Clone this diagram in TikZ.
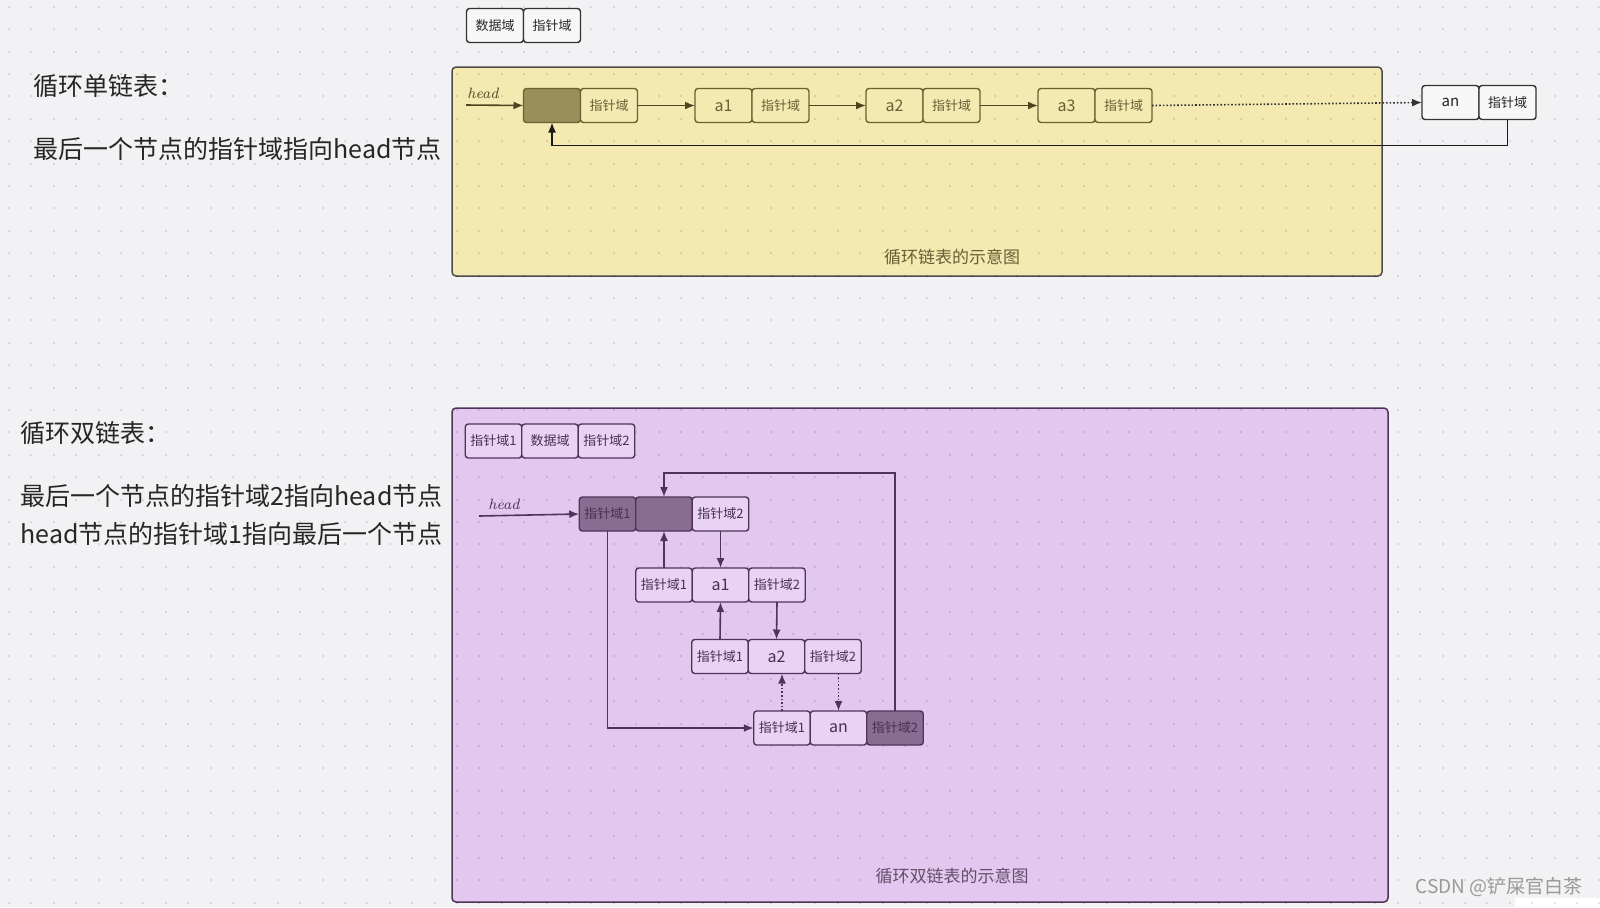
\documentclass[tikz,border=0pt]{standalone}
\usepackage{fontspec}
\newfontfamily\cjk{Noto Sans CJK SC}
\usetikzlibrary{arrows.meta,positioning}
\definecolor{PaperGray}{HTML}{F2F2F4}
\definecolor{PaleYellow}{HTML}{F3E9B1}
\definecolor{HeadOlive}{HTML}{9A8E5A}
\definecolor{OliveLine}{HTML}{6E6030}
\definecolor{OliveText}{HTML}{6A5E36}
\definecolor{OliveArrow}{HTML}{4F4420}
\definecolor{PaleLilac}{HTML}{E3C7EF}
\definecolor{CellLilac}{HTML}{E9D2F3}
\definecolor{DarkLilac}{HTML}{8A6C93}
\definecolor{PurpleLine}{HTML}{4E3558}
\definecolor{PurpleText}{HTML}{47304F}

\begin{document}
\begin{tikzpicture}[x=0.5pt,y=-0.5pt,>={Latex[length=5pt,width=4pt]},
  cell/.style={line width=0.7pt,rounded corners=1.5pt,minimum width=28.5pt,
    minimum height=17pt,inner sep=0pt,outer sep=0pt},
  cellW/.style={cell,draw=black!80,fill=white!97!black,text=black!85,
    font=\cjk\fontsize{6.5}{8}\selectfont},
  cellY/.style={cell,draw=OliveLine,fill=PaleYellow,text=OliveText,
    font=\cjk\fontsize{6.5}{8}\selectfont},
  dataY/.style={cellY,font=\cjk\fontsize{8}{9}\selectfont},
  cellP/.style={cell,minimum width=28.25pt,draw=PurpleLine,fill=CellLilac,
    text=PurpleText,font=\cjk\fontsize{6.5}{8}\selectfont},
  dataP/.style={cellP,font=\cjk\fontsize{8}{9}\selectfont},
  darkP/.style={cellP,fill=DarkLilac},
  lefttext/.style={anchor=west,inner sep=0pt,text=black!85,
    font=\cjk\fontsize{12.5}{15}\selectfont},
  caption/.style={font=\cjk\fontsize{8.5}{10}\selectfont},
  headlbl/.style={font=\itshape\fontsize{7.5}{9}\selectfont},
  link/.style={->,line width=0.8pt}]
  % paper and dot grid
  \fill[PaperGray] (0,0) rectangle (1600,907);
  \fill[white] (1515,898) rectangle (1600,907);
  \useasboundingbox (0,0) rectangle (1600,907);
  \filldraw[fill=PaleYellow,draw=black!70,line width=0.75pt,rounded corners=2pt]
    (452,67) rectangle (1382,276);
  \filldraw[fill=PaleLilac,draw=PurpleLine,line width=0.75pt,rounded corners=2pt]
    (452,408) rectangle (1388,902);
  \foreach \r in {0,...,40}
    \draw[black,opacity=0.11,line width=1pt,dash pattern=on 1pt off 10.2pt]
      (8,6.7+22.4*\r) -- (1600,6.7+22.4*\r);

  % left side texts
  \node[lefttext] (t1) at (33,86) {循环单链表：};
  \node[lefttext] (t2) at (33,149) {最后一个节点的指针域指向head节点};
  \node[lefttext] (t3) at (20,433) {循环双链表：};
  \node[lefttext] (t4) at (20,496) {最后一个节点的指针域2指向head节点};
  \node[lefttext] (t5) at (20,534) {head节点的指针域1指向最后一个节点};

  % singly linked circular list
  \node[cellW] (lgD) at (495,25.5) {数据域};
  \node[cellW,right=0pt of lgD] (lgP) {指针域};
  \node[cellY,fill=HeadOlive] (y0) at (552,105.5) {};
  \node[cellY,right=0pt of y0] (y0p) {指针域};
  \node[dataY] (y1) at (723.5,105.5) {a1};
  \node[cellY,right=0pt of y1] (y1p) {指针域};
  \node[dataY] (y2) at (894.5,105.5) {a2};
  \node[cellY,right=0pt of y2] (y2p) {指针域};
  \node[dataY] (y3) at (1066.5,105.5) {a3};
  \node[cellY,right=0pt of y3] (y3p) {指针域};
  \node[cellW,font=\cjk\fontsize{7.5}{9}\selectfont] (ynd) at (1450.5,102.5) {an};
  \node[cellW,right=0pt of ynd] (ynp) {指针域};
  \coordinate (hsY) at (466,105);
  \node[headlbl,text=OliveArrow] (hdY) at (483,93) {head};
  \draw[link,OliveArrow] (hsY) -- (y0.west);
  \draw[link,OliveArrow] (y0p) -- (y1);
  \draw[link,OliveArrow] (y1p) -- (y2);
  \draw[link,OliveArrow] (y2p) -- (y3);
  \draw[link,black!80,densely dotted] (y3p.east) -- (ynd.west);
  \draw[link,black!90] (ynp.south) -- ++(0,26) -| (y0.south);
  \node[caption,text=OliveText] (capY) at (952,257) {循环链表的示意图};

  % doubly linked circular list
  \node[cellP] (lg1) at (493.5,441) {指针域1};
  \node[cellP,right=0pt of lg1] (lg2) {数据域};
  \node[cellP,right=0pt of lg2] (lg3) {指针域2};
  \node[darkP] (d0p1) at (607.5,514) {指针域1};
  \node[darkP,right=0pt of d0p1] (d0d) {};
  \node[cellP,right=0pt of d0d] (d0p2) {指针域2};
  \node[cellP] (d1p1) at (664,585) {指针域1};
  \node[dataP,right=0pt of d1p1] (d1d) {a1};
  \node[cellP,right=0pt of d1d] (d1p2) {指针域2};
  \node[cellP] (d2p1) at (720,656.5) {指针域1};
  \node[dataP,right=0pt of d2p1] (d2d) {a2};
  \node[cellP,right=0pt of d2d] (d2p2) {指针域2};
  \node[cellP] (dnp1) at (782,728) {指针域1};
  \node[dataP,right=0pt of dnp1] (dnd) {an};
  \node[darkP,right=0pt of dnd] (dnp2) {指针域2};
  \coordinate (hsP) at (479,516);
  \node[headlbl,text=PurpleText] (hdP) at (504,504) {head};
  \draw[link,PurpleLine] (hsP) -- (d0p1.west);
  \draw[link,PurpleLine] (d0p2.south) -- (d1d.north);
  \draw[link,PurpleLine] (d1p1.north) -- (d0d.south);
  \draw[link,PurpleLine] (d1p2.south) -- (d2d.north);
  \draw[link,PurpleLine] (d2p1.north) -- (d1d.south);
  \draw[link,PurpleLine,densely dotted] (dnd.north |- d2p2.south) -- (dnd.north);
  \draw[link,PurpleLine,densely dotted] (dnp1.north) -- (dnp1.north |- d2d.south);
  \draw[link,PurpleLine] (d0p1.south) |- (dnp1.west);
  \draw[link,PurpleLine] (dnp2.north) -- ++(0,-238) -| (d0d.north);
  \node[caption,text=PurpleText!85] (capP) at (952,876) {循环双链表的示意图};

  \node[text=black!40,font=\cjk\fontsize{9.5}{11}\selectfont] (mark) at (1499,887)
    {CSDN @铲屎官白茶};
\end{tikzpicture}
\end{document}
